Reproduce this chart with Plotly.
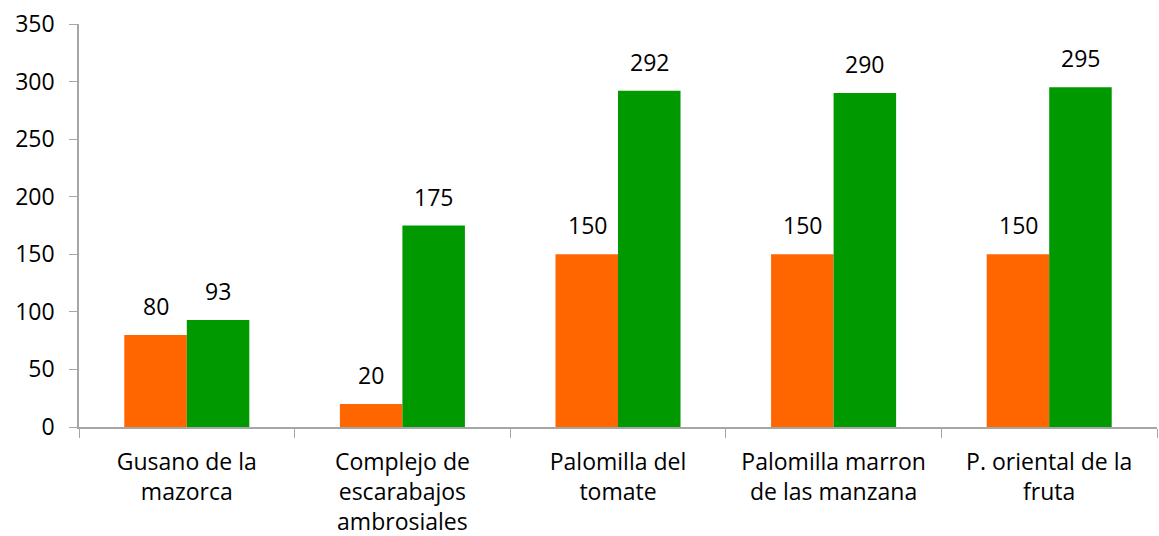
import plotly.graph_objects as go

categories = ["Gusano de la<br>mazorca", "Complejo de<br>escarabajos<br>ambrosiales", "Palomilla del<br>tomate",
              "Palomilla marron<br>de las manzana", "P. oriental de la<br>fruta"]
serie_naranja = [80, 20, 150, 150, 150]
serie_verde = [93, 175, 292, 290, 295]
y_ticks = [0, 50, 100, 150, 200, 250, 300, 350]

font = dict(family="Open Sans, Noto Sans, sans-serif", size=23, color="black")

fig = go.Figure()
fig.add_trace(go.Bar(x=categories, y=serie_naranja, marker=dict(color="#FF6600", line=dict(width=0)),
                     hoverinfo="skip"))
fig.add_trace(go.Bar(x=categories, y=serie_verde, marker=dict(color="#009900", line=dict(width=0)),
                     hoverinfo="skip"))

for series, shift in ((serie_naranja, -31), (serie_verde, 31)):
    for c, v in zip(categories, series):
        fig.add_annotation(x=c, y=v, text=str(v), showarrow=False, yanchor="bottom",
                           xshift=shift, yshift=11, font=font)

fig.update_layout(
    width=1159, height=536,
    margin=dict(l=79, r=2, t=24, b=109),
    plot_bgcolor="white", paper_bgcolor="white",
    barmode="group", bargap=0.42, bargroupgap=0,
    showlegend=False,
    font=font,
)
fig.update_xaxes(showline=True, linecolor="#A6A6A6", linewidth=1.5, ticks="outside", tickson="boundaries",
                 ticklen=9, tickcolor="#A6A6A6", tickfont=font, showgrid=False, automargin=False,
                 ticklabelstandoff=14)
fig.update_yaxes(range=[0, 350], tickvals=y_ticks, showline=True, linecolor="#A6A6A6", linewidth=1.5,
                 ticks="outside", ticklen=8, tickcolor="#A6A6A6", tickfont=font, showgrid=False,
                 zeroline=False, automargin=False, ticklabelstandoff=10)

fig.write_html("out.html", config={"displayModeBar": False},
               post_script="document.body.style.margin='0';document.body.style.overflow='hidden';")
